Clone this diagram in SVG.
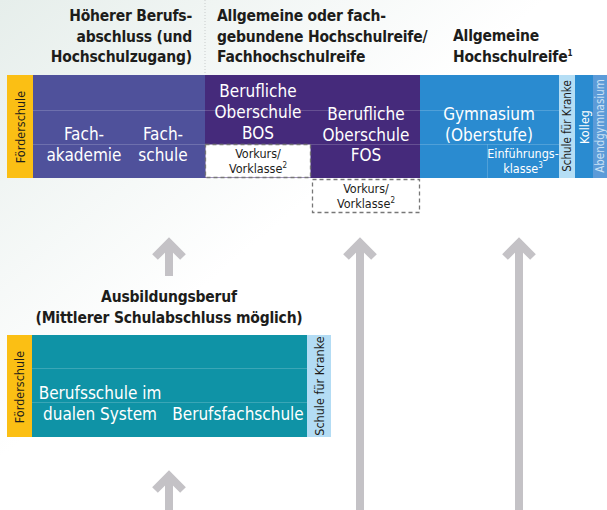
<svg xmlns="http://www.w3.org/2000/svg" width="607" height="510" viewBox="0 0 607 510">
<defs>
<linearGradient id="bg" x1="0" y1="0" x2="1" y2="1">
<stop offset="0" stop-color="#e6eeeb"/>
<stop offset="0.45" stop-color="#ffffff"/>
<stop offset="1" stop-color="#ffffff"/>
</linearGradient>
</defs>
<style>
.h{font-family:"DejaVu Sans Condensed","Liberation Sans",sans-serif;font-weight:bold;font-size:15.5px;letter-spacing:-0.2px;fill:#1d1d1b}
.w{font-family:"DejaVu Sans Condensed","Liberation Sans",sans-serif;font-size:17px;fill:#ffffff;text-anchor:middle}
.ws{font-family:"DejaVu Sans Condensed","Liberation Sans",sans-serif;font-size:12.5px;fill:#ffffff;text-anchor:middle}
.d{font-family:"DejaVu Sans Condensed","Liberation Sans",sans-serif;font-size:12.5px;fill:#1d1d1b;text-anchor:middle}
.v{font-family:"DejaVu Sans Condensed","Liberation Sans",sans-serif;font-size:12.5px;text-anchor:middle}
.sup{font-size:8px}
.grid{stroke:#ffffff;stroke-opacity:0.18;stroke-width:1}
.dash{fill:#ffffff;stroke:#777777;stroke-width:1.3;stroke-dasharray:4 3}
.arr{fill:none;stroke:#c4c2c6;stroke-width:8;stroke-linejoin:miter;stroke-miterlimit:10}
</style>
<rect x="0" y="0" width="607" height="510" fill="url(#bg)"/>
<line x1="205" y1="0" x2="205" y2="75" stroke="#c8cccc" stroke-width="1" stroke-dasharray="1 2"/>

<g id="connectors">
<path class="arr" d="M169 276V243M155 257L169 243L183 257"/>
<path class="arr" d="M360 510V243M346 257L360 243L374 257"/>
<path class="arr" d="M519 510V243M505 257L519 243L533 257"/>
<path class="arr" d="M169 510V476M155 490L169 476L183 490"/>
</g>

<g id="header-hoeherer">
<text class="h" text-anchor="end"><tspan x="192" y="21">Höherer Berufs-</tspan><tspan x="192" y="42">abschluss (und</tspan><tspan x="192" y="62">Hochschulzugang)</tspan></text>
</g>
<g id="header-fach">
<text class="h"><tspan x="217" y="21">Allgemeine oder fach-</tspan><tspan x="217" y="42">gebundene Hochschulreife/</tspan><tspan x="217" y="62">Fachhochschulreife</tspan></text>
</g>
<g id="header-allgemeine">
<text class="h"><tspan x="453" y="41">Allgemeine</tspan><tspan x="453" y="62">Hochschulreife<tspan class="sup" dy="-6">1</tspan></tspan></text>
</g>

<g id="foerderschule-top">
<rect x="7" y="75" width="26" height="103" fill="#fbbf14"/>
<text class="v" fill="#1d1d1b" transform="translate(24.5 127) rotate(-90)">Förderschule</text>
</g>
<g id="fachakademie-fachschule">
<rect x="33" y="75" width="172" height="103" fill="#4f519b"/>
<line class="grid" x1="33" y1="110.5" x2="205" y2="110.5"/>
<line class="grid" x1="33" y1="144.5" x2="205" y2="144.5"/>
<text class="w"><tspan x="84" y="140">Fach-</tspan><tspan x="84" y="161">akademie</tspan></text>
<text class="w"><tspan x="163" y="140">Fach-</tspan><tspan x="163" y="161">schule</tspan></text>
</g>
<g id="bos-fos">
<rect x="205" y="75" width="215" height="103" fill="#452a7b"/>
<line class="grid" x1="205" y1="110.5" x2="420" y2="110.5"/>
<line class="grid" x1="311" y1="144.5" x2="420" y2="144.5"/>
<text class="w"><tspan x="258" y="97">Berufliche</tspan><tspan x="258" y="118">Oberschule</tspan><tspan x="258" y="139">BOS</tspan></text>
<text class="w"><tspan x="366" y="120">Berufliche</tspan><tspan x="366" y="141">Oberschule</tspan><tspan x="366" y="161">FOS</tspan></text>
</g>
<g id="vorkurs-bos">
<rect class="dash" x="205.5" y="144.5" width="105" height="33"/>
<text class="d" x="258" y="158">Vorkurs/</text>
<text class="d" x="258" y="173">Vorklasse<tspan class="sup" dy="-5">2</tspan></text>
</g>
<g id="vorkurs-fos">
<rect class="dash" x="312.5" y="179.5" width="107" height="33"/>
<text class="d" x="366" y="192.5">Vorkurs/</text>
<text class="d" x="366" y="207.5">Vorklasse<tspan class="sup" dy="-5">2</tspan></text>
</g>
<g id="gymnasium">
<rect x="420" y="75" width="139" height="103" fill="#2a8bd0"/>
<line class="grid" x1="420" y1="110.5" x2="559" y2="110.5"/>
<line class="grid" x1="420" y1="144.5" x2="559" y2="144.5"/>
<line class="grid" x1="487.5" y1="144.5" x2="487.5" y2="178"/>
<text class="w"><tspan x="489" y="120">Gymnasium</tspan><tspan x="489" y="141">(Oberstufe)</tspan></text>
<text class="ws" x="523" y="158">Einführungs-</text>
<text class="ws" x="523" y="172.5">klasse<tspan class="sup" dy="-5">3</tspan></text>
</g>
<g id="schule-kranke-top">
<rect x="559" y="75" width="16" height="103" fill="#b5def5"/>
<text class="v" fill="#1d1d1b" style="font-size:11.5px" transform="translate(571 126) rotate(-90)">Schule für Kranke</text>
</g>
<g id="kolleg">
<rect x="575" y="75" width="18" height="103" fill="#2a8bd0"/>
<text class="v" fill="#ffffff" transform="translate(588.5 127) rotate(-90)">Kolleg</text>
</g>
<g id="abendgymnasium">
<rect x="593" y="75" width="14" height="103" fill="#5c9bd8"/>
<text class="v" fill="#c9e2f5" style="font-size:11.5px" transform="translate(604 126) rotate(-90)">Abendgymnasium</text>
</g>

<g id="header-ausbildungsberuf">
<text class="h" text-anchor="middle"><tspan x="169" y="302">Ausbildungsberuf</tspan><tspan x="169" y="323">(Mittlerer Schulabschluss möglich)</tspan></text>
</g>
<g id="foerderschule-bottom">
<rect x="7" y="335" width="25" height="102" fill="#fbbf14"/>
<text class="v" fill="#1d1d1b" transform="translate(24 387) rotate(-90)">Förderschule</text>
</g>
<g id="berufsschule">
<rect x="32" y="335" width="275" height="102" fill="#0f93a6"/>
<line class="grid" x1="32" y1="368.5" x2="307" y2="368.5"/>
<line class="grid" x1="32" y1="402.5" x2="307" y2="402.5"/>
<text class="w"><tspan x="100" y="399">Berufsschule im</tspan><tspan x="100" y="420">dualen System</tspan></text>
<text class="w" x="238" y="420">Berufsfachschule</text>
</g>
<g id="schule-kranke-bottom">
<rect x="307" y="335" width="24" height="102" fill="#b3dcf4"/>
<text class="v" fill="#1d1d1b" transform="translate(323.5 386) rotate(-90)">Schule für Kranke</text>
</g>
</svg>
